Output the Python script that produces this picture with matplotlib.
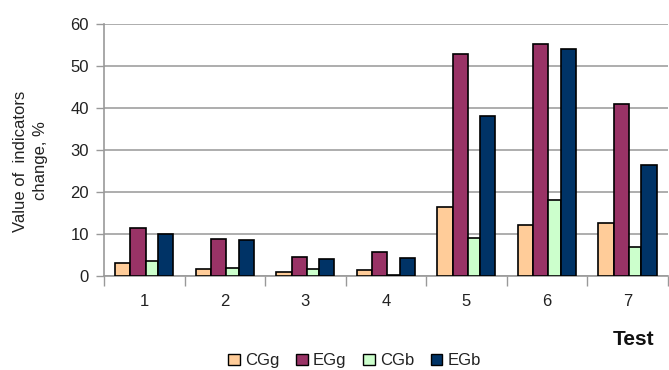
import matplotlib.pyplot as plt
from matplotlib.patches import Patch
import numpy as np

plt.rcParams['font.family'] = ['Liberation Sans', 'DejaVu Sans']

tests = ["1", "2", "3", "4", "5", "6", "7"]
series = ["CGg", "EGg", "CGb", "EGb"]
cgg = [3.0, 1.6, 1.0, 1.4, 16.4, 12.1, 12.5]
egg = [11.3, 8.9, 4.6, 5.7, 52.8, 55.2, 40.9]
cgb = [3.6, 1.9, 1.6, 0.3, 9.1, 18.0, 6.8]
egb = [10.0, 8.6, 4.0, 4.35, 38.0, 54.0, 26.3]

colors = ["#FFCC99", "#993366", "#CCFFCC", "#003366"]
widths = [0.19, 0.19, 0.153, 0.19]

fig = plt.figure(figsize=(6.69, 3.70), dpi=100)
ax = fig.add_axes([0.1555, 0.254, 0.8425, 0.682])

x = np.arange(1, len(tests) + 1)
total = sum(widths)
left = x - total / 2
for vals, c, w in zip([cgg, egg, cgb, egb], colors, widths):
    ax.bar(left, vals, width=w, align="edge", color=c,
           edgecolor="black", linewidth=1.2, zorder=3)
    left = left + w

ax.set_xlim(0.5, 7.5)
ax.set_ylim(0, 60)
ax.set_yticks(range(0, 61, 10))
ax.set_xticks(x)
ax.set_xticklabels(tests)
ax.set_xticks(np.arange(0.5, 7.6, 1), minor=True)
ax.tick_params(axis="x", which="major", length=0, pad=13,
               labelsize=12, labelcolor="#222222")
ax.tick_params(axis="x", which="minor", length=7, color="#999999", width=1)
ax.tick_params(axis="y", length=6, color="#999999", width=1,
               labelsize=12, labelcolor="#222222", pad=5)

ax.yaxis.grid(True, color="#A0A0A0", linewidth=1.2, zorder=0)
for side in ["top", "right"]:
    ax.spines[side].set_visible(False)
for side in ["left", "bottom"]:
    ax.spines[side].set_color("#999999")
    ax.spines[side].set_linewidth(1.2)

fig.text(0.045, 0.565, "Value of  indicators\nchange, %", rotation=90,
         ha="center", va="center", fontsize=12, linespacing=1.4,
         color="#222222")
fig.text(0.916, 0.067, "Test", fontsize=15, fontweight="bold",
         ha="left", va="baseline", color="#111111")

handles = [Patch(facecolor=c, edgecolor="black", linewidth=1.0) for c in colors]
fig.legend(handles, series, loc="center", bbox_to_anchor=(0.53, 0.025),
           ncol=4, frameon=False, fontsize=12, handlelength=0.7,
           handleheight=0.7, handletextpad=0.3, columnspacing=1.0,
           labelcolor="#222222")

fig.savefig("out.png", dpi=100)
